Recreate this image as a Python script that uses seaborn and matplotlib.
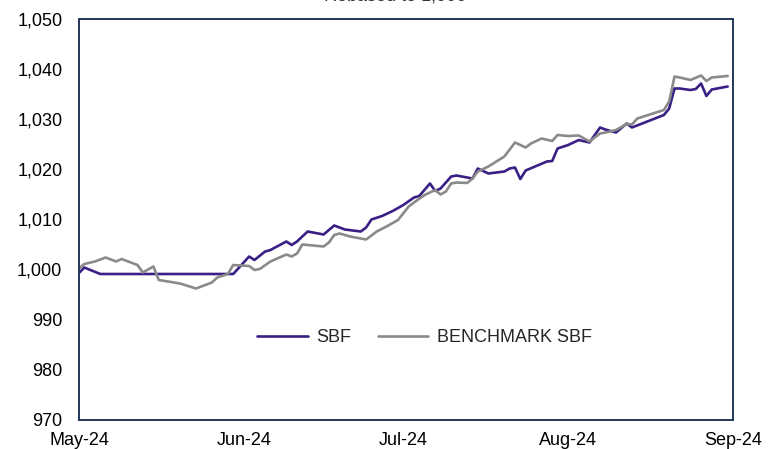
import matplotlib
matplotlib.use("Agg")
import matplotlib.pyplot as plt
import matplotlib.dates as mdates
import matplotlib.ticker as mticker
import pandas as pd
import seaborn as sns

# Data (day of 2024, value rebased at 1,000)
sbf_dates = ["05-01", "05-02", "05-05", "05-30", "06-02", "06-03", "06-05", "06-06",
             "06-09", "06-10", "06-11", "06-13", "06-16", "06-17", "06-18", "06-20",
             "06-23", "06-24", "06-25", "06-27", "06-29", "07-01", "07-03", "07-04",
             "07-06", "07-07", "07-08", "07-10", "07-11", "07-14", "07-15", "07-17",
             "07-20", "07-21", "07-22", "07-23", "07-24", "07-26", "07-28", "07-29",
             "07-30", "08-01", "08-03", "08-05", "08-07", "08-08", "08-10", "08-12",
             "08-13", "08-19", "08-20", "08-21", "08-22", "08-24", "08-25", "08-26",
             "08-27", "08-28", "08-31"]
sbf_values = [999.3, 1000.4, 999.1, 999.1, 1002.6, 1001.9, 1003.6, 1003.9,
              1005.6, 1004.9, 1005.6, 1007.6, 1007.0, 1007.9, 1008.8, 1008.0,
              1007.6, 1008.4, 1010.0, 1010.7, 1011.7, 1012.9, 1014.4, 1014.7,
              1017.2, 1015.7, 1016.2, 1018.6, 1018.8, 1018.2, 1020.2, 1019.2,
              1019.6, 1020.2, 1020.4, 1018.1, 1019.8, 1020.7, 1021.6, 1021.7,
              1024.2, 1024.9, 1025.9, 1025.4, 1028.4, 1028.0, 1027.4, 1029.2,
              1028.4, 1030.9, 1032.2, 1036.2, 1036.2, 1035.9, 1036.1, 1037.2,
              1034.7, 1036.0, 1036.6]

bench_dates = ["05-01", "05-02", "05-04", "05-06", "05-08", "05-09", "05-12", "05-13",
               "05-15", "05-16", "05-20", "05-23", "05-26", "05-27", "05-29", "05-30",
               "06-02", "06-03", "06-04", "06-06", "06-09", "06-10", "06-11", "06-12",
               "06-16", "06-17", "06-18", "06-19", "06-21", "06-24", "06-26", "06-28",
               "06-30", "07-02", "07-03", "07-05", "07-07", "07-08", "07-09", "07-10",
               "07-11", "07-13", "07-14", "07-15", "07-17", "07-20", "07-22", "07-24",
               "07-25", "07-27", "07-29", "07-30", "08-01", "08-03", "08-05", "08-07",
               "08-08", "08-10", "08-12", "08-13", "08-14", "08-19", "08-20", "08-21",
               "08-22", "08-24", "08-26", "08-27", "08-28", "08-31"]
bench_values = [1000.2, 1001.1, 1001.6, 1002.4, 1001.6, 1002.1, 1000.9, 999.4,
                1000.6, 997.9, 997.2, 996.2, 997.4, 998.4, 999.1, 1000.9,
                1000.7, 999.9, 1000.1, 1001.6, 1003.0, 1002.6, 1003.2, 1005.0,
                1004.6, 1005.4, 1006.9, 1007.2, 1006.6, 1006.0, 1007.6, 1008.7,
                1009.9, 1012.6, 1013.4, 1014.9, 1015.9, 1015.0, 1015.6, 1017.2,
                1017.4, 1017.3, 1018.2, 1019.6, 1020.6, 1022.6, 1025.4, 1024.4,
                1025.2, 1026.2, 1025.7, 1026.9, 1026.7, 1026.8, 1025.6, 1027.2,
                1027.4, 1027.9, 1029.1, 1029.0, 1030.2, 1031.9, 1033.6, 1038.6,
                1038.4, 1037.9, 1038.8, 1037.7, 1038.4, 1038.7]

series_names = ["SBF", "BENCHMARK SBF"]
y_ticks = [970, 980, 990, 1000, 1010, 1020, 1030, 1040, 1050]

df = pd.concat([
    pd.DataFrame({"date": pd.to_datetime(["2024-" + d for d in sbf_dates]),
                  "value": sbf_values, "series": series_names[0]}),
    pd.DataFrame({"date": pd.to_datetime(["2024-" + d for d in bench_dates]),
                  "value": bench_values, "series": series_names[1]}),
])

sns.set_theme(style="white")
plt.rcParams["font.family"] = ["Liberation Sans", "DejaVu Sans"]

fig = plt.figure(figsize=(7.78, 4.49), dpi=100)
ax = fig.add_axes([79 / 778, 1 - 419.5 / 449, 654 / 778, 400 / 449])

sns.lineplot(data=df, x="date", y="value", hue="series", hue_order=series_names,
             palette=["#3a1f86", "#8a8a8a"], linewidth=1.9, ax=ax)

ax.set_xlim(pd.Timestamp("2024-05-01"), pd.Timestamp("2024-09-01"))
ax.set_ylim(970, 1050)
ax.set_yticks(y_ticks)
ax.yaxis.set_major_formatter(mticker.FuncFormatter(lambda v, p: f"{v:,.0f}"))
ax.xaxis.set_major_locator(mdates.MonthLocator())
ax.xaxis.set_major_formatter(mdates.DateFormatter("%b-%y"))
ax.set_xlabel("")
ax.set_ylabel("")
ax.tick_params(axis="both", length=0, labelsize=13, colors="black")
ax.tick_params(axis="x", pad=9)
ax.tick_params(axis="y", pad=12)
for s in ax.spines.values():
    s.set_visible(True)
    s.set_color("#22355a")
    s.set_linewidth(1.4)

ax.legend(loc="center", bbox_to_anchor=(0.528, 0.204), ncol=2, frameon=False,
          fontsize=13, handlelength=2.8, handletextpad=0.45, columnspacing=1.5)

# title sits mostly above the canvas, as in the source image
fig.text(395 / 778, 1 - 0.6 / 449, "Rebased to 1,000", ha="center", va="baseline",
         fontsize=13, color="#333333")

fig.savefig("out.png", dpi=100)
